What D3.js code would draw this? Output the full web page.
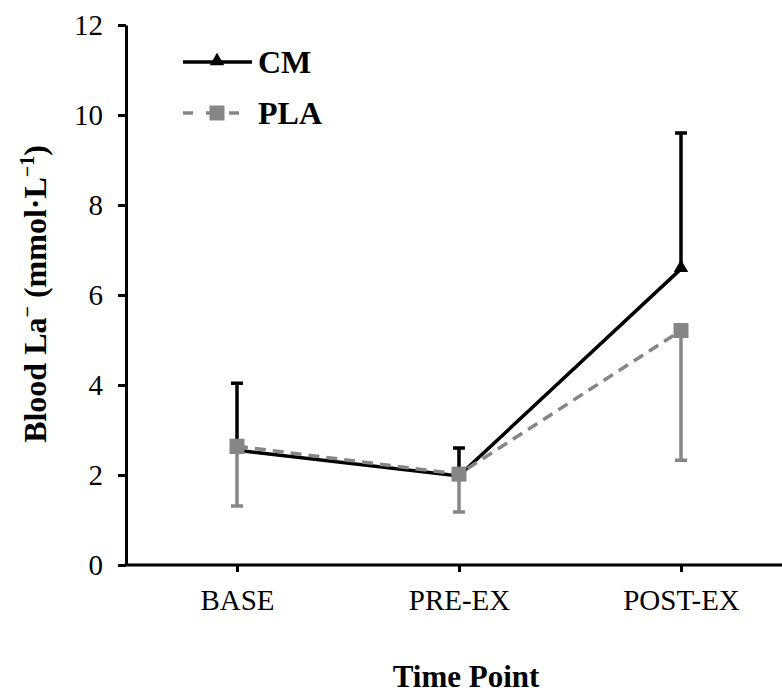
<!DOCTYPE html>
<html>
<head>
<meta charset="utf-8">
<script src="https://cdn.jsdelivr.net/npm/d3@7"></script>
<style>
  body { margin: 0; background: #fff; }
  text { font-family: "Liberation Serif", "Times New Roman", serif; }
</style>
</head>
<body>
<svg></svg>
<script>
let timePoints = ['BASE', 'PRE-EX', 'POST-EX']
let cmMean = [2.55, 1.98, 6.58]
let cmUpper = [4.04, 2.6, 9.6]
let plaMean = [2.64, 2.02, 5.21]
let plaLower = [1.31, 1.18, 2.33]
let yTicks = [0, 2, 4, 6, 8, 10, 12]

let width = 782
let height = 695
let plotLeft = 126
let plotRight = 792
let plotTop = 25
let plotBottom = 565

let black = '#000'
let gray = '#868686'

let svg = d3.select('svg')
    .attr('width', width)
    .attr('height', height)

let xScale = d3.scalePoint()
    .domain(timePoints)
    .range([plotLeft, plotRight])
    .padding(0.5)

let yScale = d3.scaleLinear()
    .domain([0, 12])
    .range([plotBottom, plotTop])

// axes
let xAxis = d3.axisBottom(xScale)
    .tickSizeInner(7)
    .tickSizeOuter(0)
    .tickPadding(17)

let yAxis = d3.axisLeft(yScale)
    .tickValues(yTicks)
    .tickSizeInner(8)
    .tickSizeOuter(0)
    .tickPadding(15)

let gx = svg.append('g')
    .attr('transform', 'translate(0,' + plotBottom + ')')
    .call(xAxis)

let gy = svg.append('g')
    .attr('transform', 'translate(' + plotLeft + ',0)')
    .call(yAxis)

gx.select('.domain').attr('d', 'M' + (plotLeft - 1.5) + ',0H' + plotRight)
;[gx, gy].forEach(g => {
    g.selectAll('.domain').attr('stroke', black).attr('stroke-width', 3)
    g.selectAll('.tick line').attr('stroke', black).attr('stroke-width', 3)
    g.selectAll('.tick text')
     .attr('fill', black)
     .style('font-size', '29px')
     .style('font-family', '"Liberation Serif", serif')
})

// axis titles
svg.append('text')
    .attr('x', 466)
    .attr('y', 687)
    .attr('text-anchor', 'middle')
    .style('font-size', '31px')
    .style('font-weight', 'bold')
    .text('Time Point')

let ylab = svg.append('text')
    .attr('transform', 'translate(46,294) rotate(-90)')
    .attr('text-anchor', 'middle')
    .style('font-size', '32px')
    .style('font-weight', 'bold')
ylab.append('tspan').text('Blood La')
ylab.append('tspan').attr('dy', -12).style('font-size', '20px').text('\u2212')
ylab.append('tspan').attr('dy', 12).text(' (mmol\u00b7L')
ylab.append('tspan').attr('dy', -12).style('font-size', '20px').text('\u22121')
ylab.append('tspan').attr('dy', 12).text(')')

let line = d3.line()
    .x((d, i) => xScale(timePoints[i]))
    .y(d => yScale(d))

let capHalf = 6

// CM series
svg.selectAll('.cm-err')
    .data(cmMean)
    .enter()
    .append('path')
    .attr('class', 'cm-err')
    .attr('fill', 'none')
    .attr('stroke', black)
    .attr('stroke-width', 3.5)
    .attr('d', (d, i) => {
        let x = xScale(timePoints[i])
        return 'M' + x + ',' + yScale(d) + 'V' + yScale(cmUpper[i]) +
               'M' + (x - capHalf) + ',' + yScale(cmUpper[i]) + 'H' + (x + capHalf)
    })

svg.append('path')
    .datum(cmMean)
    .attr('fill', 'none')
    .attr('stroke', black)
    .attr('stroke-width', 3.5)
    .attr('d', line)

svg.selectAll('.cm-pt')
    .data(cmMean)
    .enter()
    .append('path')
    .attr('class', 'cm-pt')
    .attr('fill', black)
    .attr('transform', (d, i) => 'translate(' + xScale(timePoints[i]) + ',' + (yScale(d) - 1) + ')')
    .attr('d', d3.symbol(d3.symbolTriangle, 90))

// PLA series
svg.selectAll('.pla-err')
    .data(plaMean)
    .enter()
    .append('path')
    .attr('class', 'pla-err')
    .attr('fill', 'none')
    .attr('stroke', gray)
    .attr('stroke-width', 3.5)
    .attr('d', (d, i) => {
        let x = xScale(timePoints[i])
        return 'M' + x + ',' + yScale(d) + 'V' + yScale(plaLower[i]) +
               'M' + (x - capHalf) + ',' + yScale(plaLower[i]) + 'H' + (x + capHalf)
    })

svg.append('path')
    .datum(plaMean)
    .attr('fill', 'none')
    .attr('stroke', gray)
    .attr('stroke-width', 3.5)
    .attr('stroke-dasharray', '11,7')
    .attr('d', line)

svg.selectAll('.pla-pt')
    .data(plaMean)
    .enter()
    .append('path')
    .attr('class', 'pla-pt')
    .attr('fill', gray)
    .attr('transform', (d, i) => 'translate(' + xScale(timePoints[i]) + ',' + yScale(d) + ')')
    .attr('d', d3.symbol(d3.symbolSquare, 225))

// legend
let legend = svg.append('g')

legend.append('line')
    .attr('x1', 183).attr('x2', 252)
    .attr('y1', 62).attr('y2', 62)
    .attr('stroke', black)
    .attr('stroke-width', 3.5)
legend.append('path')
    .attr('transform', 'translate(217,61)')
    .attr('fill', black)
    .attr('d', d3.symbol(d3.symbolTriangle, 90))
legend.append('text')
    .attr('x', 258).attr('y', 73)
    .style('font-size', '32px')
    .style('font-weight', 'bold')
    .text('CM')

legend.append('line')
    .attr('x1', 183).attr('x2', 252)
    .attr('y1', 113).attr('y2', 113)
    .attr('stroke', gray)
    .attr('stroke-width', 3.5)
    .attr('stroke-dasharray', '10,13')
legend.append('path')
    .attr('transform', 'translate(217,113)')
    .attr('fill', gray)
    .attr('d', d3.symbol(d3.symbolSquare, 225))
legend.append('text')
    .attr('x', 258).attr('y', 124)
    .style('font-size', '32px')
    .style('font-weight', 'bold')
    .text('PLA')
</script>
</body>
</html>
